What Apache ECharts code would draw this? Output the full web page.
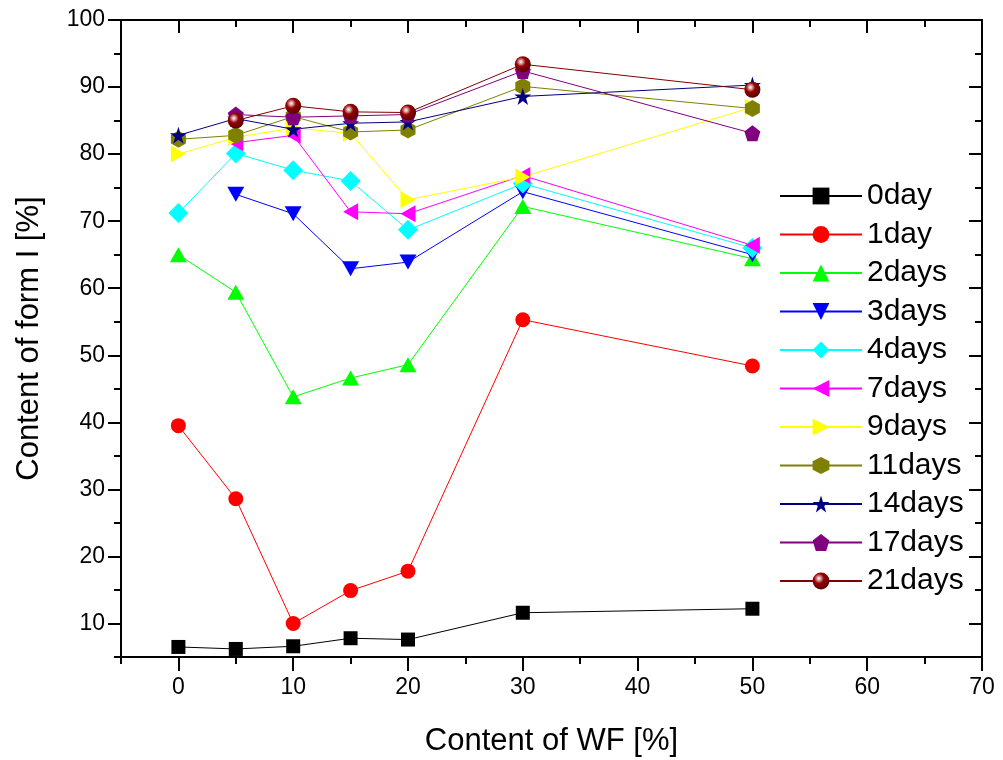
<!DOCTYPE html>
<html>
<head>
<meta charset="utf-8">
<script src="https://cdn.jsdelivr.net/npm/echarts@6/dist/echarts.min.js"></script>
<style>
html,body{margin:0;padding:0;background:#fff;}
#chart{width:1003px;height:760px;}
</style>
</head>
<body>
<div id="chart"></div>
<script>
// ---- data ----
const wf = [0, 5, 10, 15, 20, 30, 50];
const seriesNames = ['0day','1day','2days','3days','4days','7days','9days','11days','14days','17days','21days'];
const day0  = [6.5, 6.2, 6.6, 7.8, 7.6, 11.6, 12.2];
const day1  = [39.5, 28.6, 10.0, 14.9, 17.8, 55.3, 48.4];
const day2  = [65.0, 59.4, 43.8, 46.6, 48.6, 72.2, 64.4];
const day3  = [null, 74.0, 71.1, 62.9, 63.9, 74.4, 65.0];
const day4  = [71.2, 80.1, 77.6, 76.0, 68.7, 75.6, 66.0];
const day7  = [null, 81.7, 82.8, 71.4, 71.1, 76.8, 66.4];
const day9  = [80.0, 82.5, 83.9, 83.1, 73.2, 76.6, 87.0];
const day11 = [82.2, 82.8, 85.6, 83.3, 83.6, 90.1, 86.8];
const day14 = [82.8, 85.3, 83.7, 84.6, 84.8, 88.6, 90.3];
const day17 = [null, 85.9, 85.5, 85.7, 85.9, 92.4, 83.1];
const day21 = [null, 85.0, 87.2, 86.3, 86.2, 93.4, 89.6];
const values = [day0, day1, day2, day3, day4, day7, day9, day11, day14, day17, day21];

const xMajor = [0, 10, 20, 30, 40, 50, 60, 70];
const xMinor = [-5, 5, 15, 25, 35, 45, 55, 65];
const yMajor = [10, 20, 30, 40, 50, 60, 70, 80, 90, 100];
const yMinor = [5, 15, 25, 35, 45, 55, 65, 75, 85, 95];

// ---- styles ----
const FONT = 'Liberation Sans, Arial, sans-serif';
const sphere = {
  type: 'radial', x: 0.38, y: 0.35, r: 0.65,
  colorStops: [
    {offset: 0, color: '#ffffff'},
    {offset: 0.18, color: '#d9a0a0'},
    {offset: 0.45, color: '#960000'},
    {offset: 1, color: '#5a0000'}
  ]
};
const STAR = 'path://M0,-1 L0.2245,-0.309 L0.951,-0.309 L0.363,0.118 L0.588,0.809 L0,0.382 L-0.588,0.809 L-0.363,0.118 L-0.951,-0.309 L-0.2245,-0.309 Z';
const PENT = 'path://M0,-1 L0.951,-0.309 L0.588,0.809 L-0.588,0.809 L-0.951,-0.309 Z';
const HEX = 'path://M0,-1 L0.866,-0.5 L0.866,0.5 L0,1 L-0.866,0.5 L-0.866,-0.5 Z';
const TDOWN = 'path://M0,0 L2,0 L1,1.75 Z';
const TLEFT = 'path://M0,1 L1.75,0 L1.75,2 Z';
const TRIGHT = 'path://M0,0 L1.75,1 L0,2 Z';

const looks = [
  {line: '#000000', fill: '#000000', symbol: 'rect', size: 14},
  {line: '#ff0000', fill: '#ff0000', symbol: 'circle', size: 15},
  {line: '#00ff00', fill: '#00ff00', symbol: 'triangle', size: [17, 15]},
  {line: '#0000ff', fill: '#0000ff', symbol: TDOWN, size: [17, 15]},
  {line: '#00ffff', fill: '#00ffff', symbol: 'diamond', size: 20},
  {line: '#ff00ff', fill: '#ff00ff', symbol: TLEFT, size: [15, 17]},
  {line: '#ffff00', fill: '#ffff00', symbol: TRIGHT, size: [15, 17]},
  {line: '#808000', fill: '#808000', symbol: HEX, size: [15, 17]},
  {line: '#000080', fill: '#000080', symbol: STAR, size: 17},
  {line: '#800080', fill: '#800080', symbol: PENT, size: 16},
  {line: '#800000', fill: sphere, symbol: 'circle', size: 16}
];

const series = seriesNames.map((name, i) => ({
  name: name,
  type: 'line',
  xAxisIndex: 0,
  yAxisIndex: 0,
  data: wf.map((x, k) => values[i][k] == null ? null : [x, values[i][k]]).filter(d => d),
  symbol: looks[i].symbol,
  symbolSize: looks[i].size,
  showAllSymbol: true,
  lineStyle: {color: looks[i].line, width: 1},
  itemStyle: {color: looks[i].fill, borderWidth: 0},
  emphasis: {disabled: true},
  animation: false
}));

function axisBase(extra) {
  return Object.assign({
    type: 'value',
    splitLine: {show: false},
    axisLine: {onZero: false, show: true, lineStyle: {color: '#000', width: 2}},
    axisLabel: {show: false},
    axisTick: {show: true, lineStyle: {color: '#000', width: 2}}
  }, extra);
}

const option = {
  backgroundColor: '#ffffff',
  animation: false,
  grid: {left: 121, right: 21, top: 20, bottom: 103, containLabel: false, outerBoundsMode: 'none'},
  legend: {
    orient: 'vertical',
    left: 774,
    top: 176,
    itemWidth: 82,
    itemHeight: 21,
    itemGap: 8.5,
    data: seriesNames,
    textStyle: {fontFamily: FONT, fontSize: 30, color: '#000', lineHeight: 30},
    selectedMode: false
  },
  xAxis: [
    axisBase({min: -5, max: 70, position: 'bottom',
      axisTick: {show: true, customValues: xMajor, length: 14, inside: false, lineStyle: {color: '#000', width: 2}},
      axisLabel: {show: true, customValues: xMajor, fontSize: 23, fontFamily: FONT, color: '#000', margin: 19},
      name: 'Content of WF [%]', nameLocation: 'middle', nameGap: 69,
      nameTextStyle: {fontFamily: FONT, fontSize: 31, color: '#000'}}),
    axisBase({min: -5, max: 70, position: 'bottom',
      axisLine: {onZero: false, show: false},
      axisTick: {show: true, customValues: xMinor, length: 7, inside: false, lineStyle: {color: '#000', width: 2}}}),
    axisBase({min: -5, max: 70, position: 'top',
      axisTick: {show: true, customValues: xMajor, length: 13, inside: true, lineStyle: {color: '#000', width: 2}}}),
    axisBase({min: -5, max: 70, position: 'top',
      axisLine: {onZero: false, show: false},
      axisTick: {show: true, customValues: xMinor, length: 7, inside: true, lineStyle: {color: '#000', width: 2}}})
  ],
  yAxis: [
    axisBase({min: 5, max: 100, position: 'left',
      axisTick: {show: true, customValues: yMajor, length: 13, inside: false, lineStyle: {color: '#000', width: 2}},
      axisLabel: {show: true, customValues: yMajor, fontSize: 23, fontFamily: FONT, color: '#000', margin: 16},
      name: 'Content of form I [%]', nameLocation: 'middle', nameGap: 76, nameRotate: 90,
      nameTextStyle: {fontFamily: FONT, fontSize: 31, color: '#000'}}),
    axisBase({min: 5, max: 100, position: 'left',
      axisLine: {onZero: false, show: false},
      axisTick: {show: true, customValues: yMinor, length: 7, inside: false, lineStyle: {color: '#000', width: 2}}}),
    axisBase({min: 5, max: 100, position: 'right',
      axisTick: {show: true, customValues: yMajor, length: 13, inside: true, lineStyle: {color: '#000', width: 2}}}),
    axisBase({min: 5, max: 100, position: 'right',
      axisLine: {onZero: false, show: false},
      axisTick: {show: true, customValues: yMinor, length: 7, inside: true, lineStyle: {color: '#000', width: 2}}})
  ],
  series: series
};

const chart = echarts.init(document.getElementById('chart'), null, {renderer: 'canvas'});
chart.setOption(option);
</script>
</body>
</html>
